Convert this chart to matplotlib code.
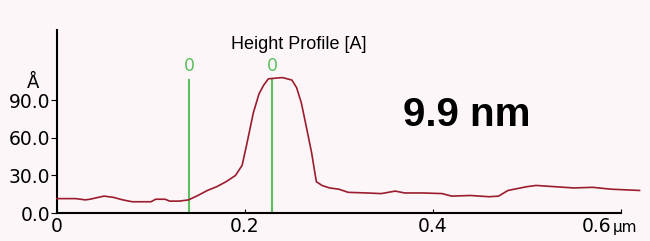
import matplotlib
matplotlib.use("Agg")
import matplotlib.pyplot as plt

# profile data (um, Angstrom)
pos = [0, 0.02, 0.03, 0.035, 0.05, 0.06, 0.07, 0.08, 0.1, 0.105, 0.115, 0.12, 0.13, 0.14,
       0.15, 0.16, 0.17, 0.18, 0.19, 0.197, 0.202, 0.209, 0.215, 0.22, 0.225, 0.24, 0.25,
       0.255, 0.26, 0.265, 0.271, 0.276, 0.282, 0.29, 0.30, 0.31, 0.33, 0.345, 0.36, 0.37,
       0.39, 0.41, 0.42, 0.44, 0.46, 0.47, 0.48, 0.5, 0.51, 0.53, 0.55, 0.57, 0.59, 0.62]
height = [11.5, 11.5, 10.5, 11, 13.5, 12.5, 10.5, 9, 9, 11, 11, 9.5, 9.5, 10.5,
          14, 18, 21, 25, 30, 38, 55, 80, 95, 102, 107, 108, 106,
          100, 88, 70, 48, 25, 22, 20, 19, 16.5, 16, 15.5, 17.5, 16,
          16, 15.5, 13.5, 14, 13, 13.5, 18, 21, 22, 21, 20, 20.5, 19, 18]

cursors = [0.1404, 0.2287]
cursor_labels = ["0", "0"]
xticks = [0, 0.2, 0.4, 0.6]
xlabels = ["0", "0.2", "0.4", ""]
yticks = [0, 30, 60, 90]
ylabels = ["0.0", "30.0", "60.0", "90.0"]

bg = "#fcf6f9"
fig = plt.figure(figsize=(6.5, 2.41), dpi=100, facecolor=bg)
ax = fig.add_axes([0.0877, 0.116, 0.8673, 0.76])
ax.set_facecolor(bg)

ax.plot(pos, height, color="#9b1c2c", lw=1.2, clip_on=False, zorder=3)

for c, lab in zip(cursors, cursor_labels):
    ax.plot([c, c], [0, 106], color="#5cc05c", lw=1.5, zorder=2)
    ax.text(c, 110, lab, color="#5cc05c", ha="center", va="bottom", fontsize=12.5)

ax.set_xlim(0, 0.6)
ax.set_ylim(0, 146)
for s in ["top", "right"]:
    ax.spines[s].set_visible(False)
for s in ["left", "bottom"]:
    ax.spines[s].set_linewidth(1.5)

ax.set_xticks(xticks)
ax.set_xticklabels(xlabels)
ax.set_yticks(yticks)
ax.set_yticklabels(ylabels)
ax.tick_params(axis="x", direction="in", length=3, pad=3, labelsize=13.5)
ax.tick_params(axis="y", direction="out", length=4, pad=1, labelsize=13.5)

# last x label with its unit, kept inside the figure
trans = ax.get_xaxis_transform()
ax.text(0.5895, -0.102, "0.6", transform=trans, ha="right", va="baseline", fontsize=13.5)
ax.text(0.5915, -0.102, "µm", transform=trans, ha="left", va="baseline", fontsize=11)

ax.text(-0.026, 104, "Å", ha="center", va="center", fontsize=13)
fig.text(0.46, 0.815, "Height Profile [A]", ha="center", va="center",
         family="Liberation Sans", fontsize=13)
ax.text(0.436, 78, "9.9 nm", ha="center", va="center",
        family="Liberation Sans", fontweight="bold", fontsize=29)

fig.savefig("out.png", dpi=100, facecolor=bg)
